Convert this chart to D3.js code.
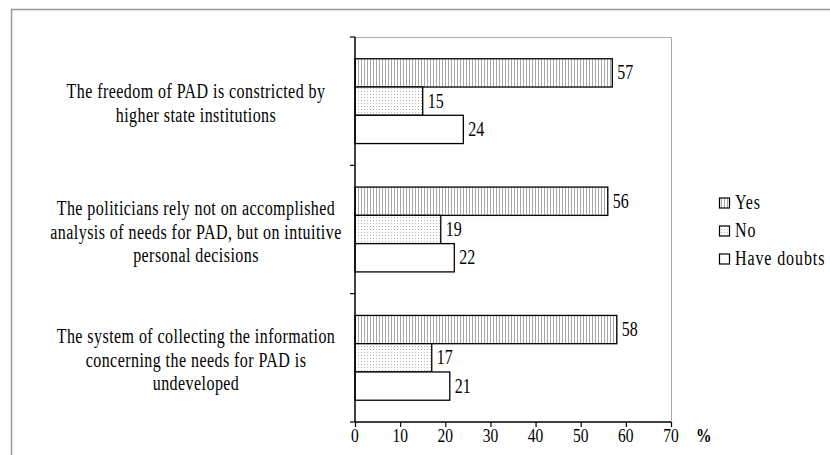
<!DOCTYPE html>
<html>
<head>
<meta charset="utf-8">
<title>PAD survey</title>
<style>
  body { margin: 0; background: #fff; }
</style>
<script src="https://d3js.org/d3.v7.min.js"></script>
</head>
<body>
<svg id="chart" width="830" height="455"></svg>
<script>
// data
var categories = [
  ["The freedom of PAD is constricted by", "higher state institutions"],
  ["The politicians rely not on accomplished", "analysis of needs for PAD, but on intuitive", "personal decisions"],
  ["The system of collecting the information", "concerning the needs for PAD is", "undeveloped"]
];
var seriesNames = ["Yes", "No", "Have doubts"];
var yes    = [57, 56, 58];
var no     = [15, 19, 17];
var doubts = [24, 22, 21];
var xTicks = [0, 10, 20, 30, 40, 50, 60, 70];

var series = [yes, no, doubts];
var fills = ["url(#vlines)", "url(#dots)", "#fff"];
var sy = 1.28; // the original picture is stretched vertically
var font = "'Liberation Serif', 'Times New Roman', 'DejaVu Serif', serif";

var svg = d3.select("#chart");

// patterns
var defs = svg.append("defs");
var vl = defs.append("pattern").attr("id", "vlines")
  .attr("patternUnits", "userSpaceOnUse").attr("width", 3).attr("height", 3);
vl.append("rect").attr("width", 3).attr("height", 3).attr("fill", "#fff");
vl.append("rect").attr("x", 1).attr("width", 1).attr("height", 3).attr("fill", "#a8a8a8");
var dt = defs.append("pattern").attr("id", "dots")
  .attr("patternUnits", "userSpaceOnUse").attr("width", 3).attr("height", 3);
dt.append("rect").attr("width", 3).attr("height", 3).attr("fill", "#fff");
dt.append("rect").attr("x", 1).attr("y", 1).attr("width", 1).attr("height", 1).attr("fill", "#b4b4b4");

// outer frame (left and top only visible)
svg.append("path").attr("d", "M11.5,455 V9.5 H830")
  .attr("fill", "none").attr("stroke", "#999").attr("stroke-width", 1.5);

var x = d3.scaleLinear().domain([0, 70]).range([355, 671]);
var y = d3.scaleBand().domain(d3.range(categories.length)).range([37, 422]);
var ys = d3.scaleBand().domain(d3.range(series.length))
  .range([0, y.bandwidth()]).paddingInner(0).paddingOuter(0.77);

// plot area border (top, right)
svg.append("path")
  .attr("d", "M" + x(0) + ",37.5 H" + (x(70) + 0.5) + " V422")
  .attr("fill", "none").attr("stroke", "#aaa").attr("stroke-width", 1);

function stext(g, tx, ty, str, size, anchor, ls) {
  return g.append("text")
    .attr("transform", "translate(" + tx + "," + ty + ") scale(1," + sy + ")")
    .attr("text-anchor", anchor || "start")
    .attr("font-family", font)
    .attr("font-size", size)
    .attr("letter-spacing", ls || 0)
    .attr("fill", "#000")
    .text(str);
}

// bars
var bars = svg.append("g");
series.forEach(function (vals, s) {
  vals.forEach(function (v, c) {
    var by = y(c) + ys(s);
    bars.append("rect")
      .attr("x", x(0)).attr("y", by)
      .attr("width", x(v) - x(0)).attr("height", ys.bandwidth())
      .attr("fill", fills[s]).attr("stroke", "#000").attr("stroke-width", 1.3);
    stext(bars, x(v) + 5, by + ys.bandwidth() / 2 + 6.5, v, 16);
  });
});

// x axis
var xAxis = svg.append("g").attr("transform", "translate(0,422)")
  .call(d3.axisBottom(x).tickValues(xTicks).tickSize(5).tickFormat(""));
xAxis.select(".domain").attr("stroke", "#000").attr("stroke-width", 1.3)
  .attr("d", "M" + x(0) + ",0 H" + x(70));
xAxis.selectAll(".tick line").attr("stroke", "#000").attr("stroke-width", 1.2);
xTicks.forEach(function (t) {
  stext(svg, x(t), 442, t, 15.5, "middle");
});
stext(svg, 696, 442, "%", 15.5).attr("font-weight", "bold");

// y axis
var yAxis = svg.append("g").attr("transform", "translate(" + x(0) + ",0)");
yAxis.append("line").attr("x1", 0).attr("x2", 0).attr("y1", 37).attr("y2", 422)
  .attr("stroke", "#000").attr("stroke-width", 1.5);
y.domain().concat([categories.length]).forEach(function (i) {
  var ty = i < categories.length ? y(i) : y.range()[1];
  yAxis.append("line").attr("x1", -5).attr("x2", 0).attr("y1", ty).attr("y2", ty)
    .attr("stroke", "#000").attr("stroke-width", 1.2);
});

// category labels
var lineH = 23.5;
categories.forEach(function (lines, c) {
  var cy = y(c) + y.bandwidth() / 2;
  lines.forEach(function (ln, i) {
    stext(svg, 196, cy + (i - (lines.length - 1) / 2) * lineH + 9, ln, 16, "middle", 0.45);
  });
});

// legend
var lg = svg.append("g");
seriesNames.forEach(function (name, s) {
  var ly = 203 + s * 28;
  lg.append("rect").attr("x", 719.5).attr("y", ly - 5).attr("width", 10).attr("height", 10)
    .attr("fill", fills[s]).attr("stroke", "#000").attr("stroke-width", 1.2);
  stext(lg, 735, ly + 6, name, 16, "start", 0.9);
});
</script>
</body>
</html>
